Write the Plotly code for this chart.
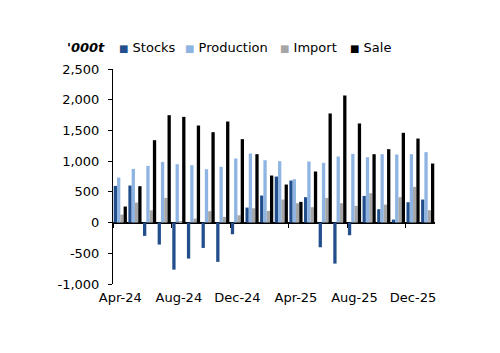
import plotly.graph_objects as go

months = ["Apr-24", "May-24", "Jun-24", "Jul-24", "Aug-24", "Sep-24", "Oct-24", "Nov-24",
          "Dec-24", "Jan-25", "Feb-25", "Mar-25", "Apr-25", "May-25", "Jun-25", "Jul-25",
          "Aug-25", "Sep-25", "Oct-25", "Nov-25", "Dec-25", "Jan-26"]
stocks = [597, 603, -217, -358, -766, -586, -413, -640, -190, 244, 440, 749,
          684, 413, -402, -668, -206, 434, 217, 49, 331, 375]
production = [733, 874, 923, 988, 950, 934, 869, 907, 1043, 1124, 1015, 999,
              706, 994, 972, 1075, 1119, 1064, 1113, 1108, 1113, 1146]
imports = [130, 326, 200, 402, 15, 65, 185, 92, 119, 233, 190, 375,
           315, 250, 402, 315, 272, 478, 293, 413, 581, 201]
sale = [261, 592, 1341, 1748, 1721, 1580, 1471, 1645, 1358, 1113, 766, 619,
        337, 831, 1776, 2069, 1613, 1113, 1195, 1461, 1368, 961]

series_names = ["Stocks", "Production", "Import", "Sale"]
series_values = [stocks, production, imports, sale]
colors = ["#234E8C", "#8DB4E2", "#A6A6A6", "#000000"]

x_tick_labels = ["Apr-24", "Aug-24", "Dec-24", "Apr-25", "Aug-25", "Dec-25"]
y_tick_vals = [-1000, -500, 0, 500, 1000, 1500, 2000, 2500]
y_tick_text = ["-1,000", "-500", "0", "500", "1,000", "1,500", "2,000", "2,500"]
y_title = "'000t"

FONT = "DejaVu Sans"
fig = go.Figure()
for name, vals, col in zip(series_names, series_values, colors):
    fig.add_trace(go.Bar(x=months, y=vals, name=name, marker_color=col,
                         marker_line_width=0, showlegend=False))

# empty helper trace so the boundary-tick axis (x2) is rendered
fig.add_trace(go.Scatter(x=[], y=[], xaxis="x2", yaxis="y", showlegend=False,
                         hoverinfo="skip"))

y_min, y_max = y_tick_vals[0], y_tick_vals[-1]
boundaries = [months.index(m) - 0.5 for m in x_tick_labels]

fig.update_layout(
    width=500, height=353,
    margin=dict(l=113, r=65, t=69, b=69),
    paper_bgcolor="white", plot_bgcolor="white",
    font=dict(family=FONT, size=13, color="black"),
    barmode="group", bargap=0.1, bargroupgap=0,
    xaxis=dict(type="category", categoryorder="array", categoryarray=months,
               tickmode="array", tickvals=x_tick_labels, ticks="",
               showline=False, showgrid=False, zeroline=False,
               ticklabelstandoff=4),
    xaxis2=dict(overlaying="x", anchor="free", side="bottom",
                position=(0 - y_min) / (y_max - y_min),
                range=[-0.5, len(months) - 0.5], tickmode="array",
                tickvals=boundaries, ticks="outside", ticklen=4,
                tickcolor="black", tickwidth=1, showticklabels=False,
                showline=False, showgrid=False, zeroline=False),
    yaxis=dict(range=[y_min, y_max], tickmode="array", tickvals=y_tick_vals,
               ticktext=y_tick_text, showline=True, linecolor="black",
               linewidth=1, ticks="outside", ticklen=4, tickcolor="black",
               showgrid=False, zeroline=True, zerolinecolor="black",
               zerolinewidth=1.5, ticklabelstandoff=6),
)

def px_to_paper(px):
    return (px - 113) / (500 - 113 - 65)

fig.add_annotation(text="<b><i>" + y_title + "</i></b>", xref="paper", yref="paper",
                   x=px_to_paper(65), y=1 + (69 - 47) / 215, xanchor="left",
                   yanchor="middle", showarrow=False, font=dict(size=13))

legend_x = [117, 183, 278, 348]
for name, col, lx in zip(series_names, colors, legend_x):
    fig.add_annotation(
        text=f"<span style='color:{col};font-size:10px'>■</span> {name}",
        xref="paper", yref="paper", x=px_to_paper(lx), y=1 + (69 - 47) / 215,
        xanchor="left", yanchor="middle", showarrow=False, font=dict(size=13))

fig.write_html("out.html")
